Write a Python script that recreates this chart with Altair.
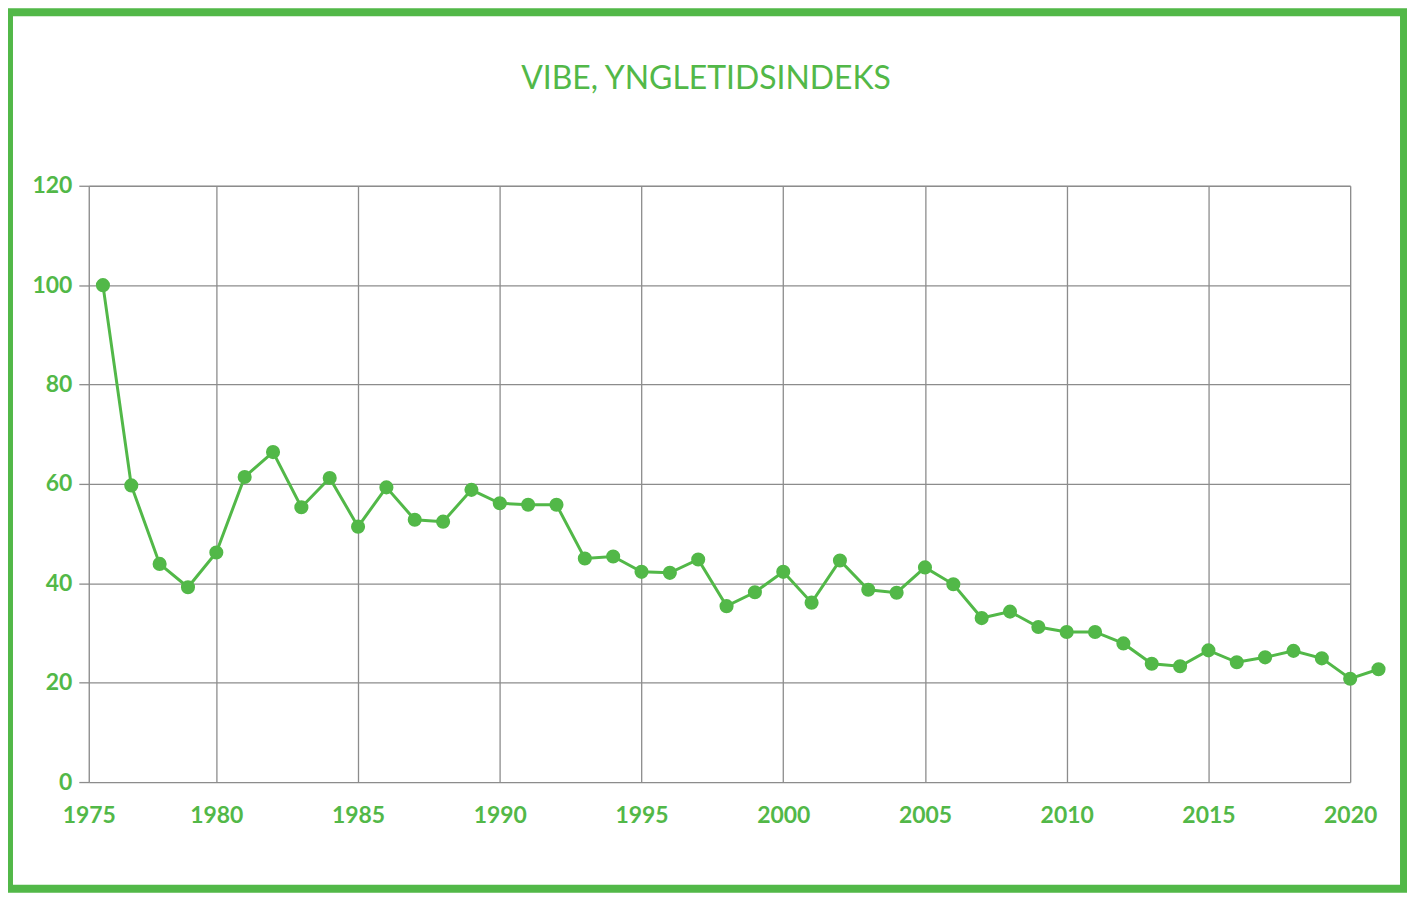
import altair as alt
import pandas as pd

years = list(range(1976, 2022))
index_values = [
    100.0, 59.7, 43.9, 39.2, 46.2, 61.4, 66.4, 55.3, 61.2, 51.4,
    59.3, 52.8, 52.4, 58.8, 56.1, 55.8, 55.8, 45.0, 45.4, 42.3,
    42.1, 44.8, 35.4, 38.2, 42.3, 36.1, 44.6, 38.7, 38.1, 43.2,
    39.8, 33.0, 34.3, 31.2, 30.2, 30.2, 27.9, 23.8, 23.3, 26.5,
    24.1, 25.1, 26.4, 24.9, 20.8, 22.7,
]
x_ticks = [1975.5, 1980, 1985, 1990, 1995, 2000, 2005, 2010, 2015, 2020]
y_ticks = [0, 20, 40, 60, 80, 100, 120]
title_text = "VIBE, YNGLETIDSINDEKS"

GREEN = "#52b848"
GRID = "#8c8c8c"

df = pd.DataFrame({"year": years, "value": index_values})

x_enc = alt.X(
    "year:Q",
    scale=alt.Scale(domain=[1975.5, 2020], nice=False, zero=False),
    axis=alt.Axis(
        values=x_ticks,
        labelExpr="datum.value < 1976 ? '1975' : format(datum.value, 'd')",
        title=None,
        ticks=False,
        tickSize=0,
        domain=False,
        labelPadding=23,
        labelFlush=False,
        labelOverlap=False,
        labelFont="Lato",
        labelFontSize=23,
        labelFontWeight="bold",
        labelColor=GREEN,
        grid=True,
        gridColor=GRID,
        gridWidth=1.3,
        gridOpacity=1,
    ),
)
y_enc = alt.Y(
    "value:Q",
    scale=alt.Scale(domain=[0, 120], nice=False),
    axis=alt.Axis(
        values=y_ticks,
        title=None,
        domain=False,
        ticks=True,
        tickSize=10,
        tickColor=GRID,
        tickWidth=1.3,
        labelPadding=7,
        labelFont="Lato",
        labelFontSize=23,
        labelFontWeight="bold",
        labelColor=GREEN,
        grid=True,
        gridColor=GRID,
        gridWidth=1.3,
        gridOpacity=1,
    ),
)

line = alt.Chart(df).mark_line(color=GREEN, strokeWidth=3, clip=False).encode(x=x_enc, y=y_enc)
points = alt.Chart(df).mark_circle(color=GREEN, size=200, opacity=1, clip=False).encode(x="year:Q", y="value:Q")

one = pd.DataFrame({"k": [0]})
frame = alt.Chart(one).mark_rect(
    filled=False, fillOpacity=0, stroke=GREEN, strokeWidth=8, clip=False
).encode(
    x=alt.value(-80), x2=alt.value(1319), y=alt.value(-174), y2=alt.value(705)
)
title = alt.Chart(one).mark_text(
    font="Lato", fontSize=32, fontWeight="normal", color=GREEN,
    align="center", baseline="alphabetic", clip=False
).encode(x=alt.value(619), y=alt.value(-97), text=alt.value(title_text))

chart = alt.layer(frame, line, points, title).properties(
    width=1265,
    height=598,
    autosize=alt.AutoSizeParams(type="none"),
    padding={"left": 81, "top": 177, "right": 57, "bottom": 112},
).configure_view(stroke=None).configure(background="white")

chart.save("out.html", embed_options={"renderer": "svg", "actions": False})
